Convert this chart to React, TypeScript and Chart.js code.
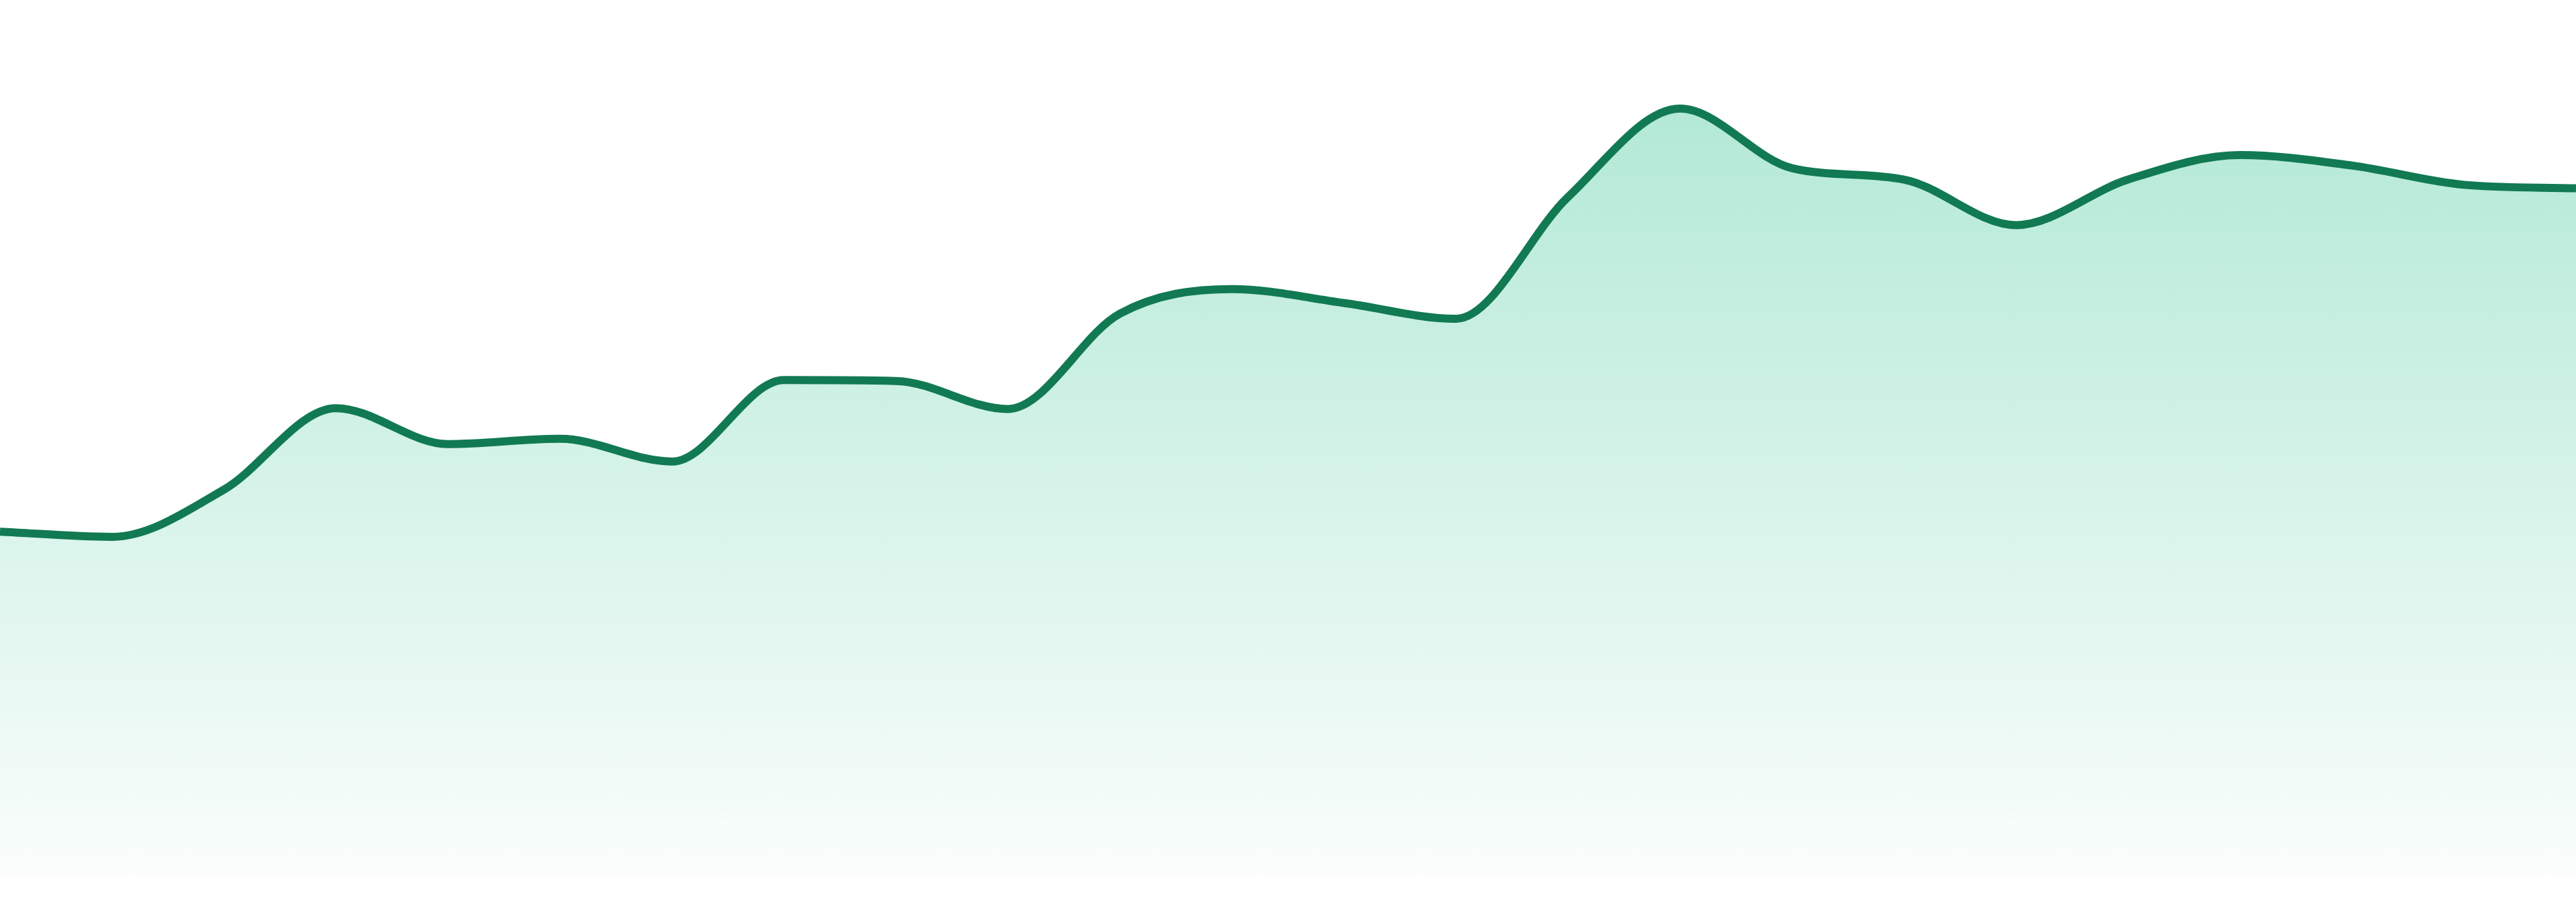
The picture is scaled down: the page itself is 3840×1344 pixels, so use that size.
import { useEffect, useRef } from 'react'
import Chart from 'chart.js/auto'

// 24 evenly spaced samples, no visible axes
const labels = Array.from({ length: 24 }, (_, i) => `P${i + 1}`)
const values = [
  39.3, 38.7, 44.1, 53.4, 49.3, 49.9, 47.3, 56.6, 56.5, 53.3, 64.2, 67.0,
  65.4, 63.6, 77.5, 87.6, 80.8, 79.5, 74.3, 79.5, 82.3, 81.1, 78.9, 78.5,
]
const yMin = 0
const yMax = 100

const LINE = '#117a52'

export default function App() {
  const ref = useRef<HTMLCanvasElement>(null)
  const chart = useRef<Chart | null>(null)
  useEffect(() => {
    if (!ref.current) return
    chart.current?.destroy()
    chart.current = new Chart(ref.current.getContext('2d')!, {
      type: 'line',
      data: {
        labels,
        datasets: [{
          data: values,
          borderColor: LINE,
          borderWidth: 12,
          pointRadius: 0,
          cubicInterpolationMode: 'monotone',
          fill: 'start',
          backgroundColor: (ctx: any) => {
            const { chart } = ctx
            const area = chart.chartArea
            if (!area) return 'rgba(16,185,129,0.2)'
            const g = chart.ctx.createLinearGradient(0, area.top, 0, area.bottom)
            g.addColorStop(0, 'rgba(16,185,129,0.36)')
            g.addColorStop(1, 'rgba(16,185,129,0.02)')
            return g
          },
        }],
      },
      options: {
        responsive: true, maintainAspectRatio: false, animation: false,
        layout: { padding: { top: 0, left: 0, right: 0, bottom: 39 } },
        scales: {
          x: { display: false, offset: false },
          y: { display: false, min: yMin, max: yMax },
        },
        plugins: { legend: { display: false }, tooltip: { enabled: false } },
      },
    })
    return () => chart.current?.destroy()
  }, [])
  return (
    <div style={{ position: 'fixed', inset: 0, background: '#fff' }}>
      <canvas ref={ref} role="img" aria-label="Area line chart" />
    </div>
  )
}
